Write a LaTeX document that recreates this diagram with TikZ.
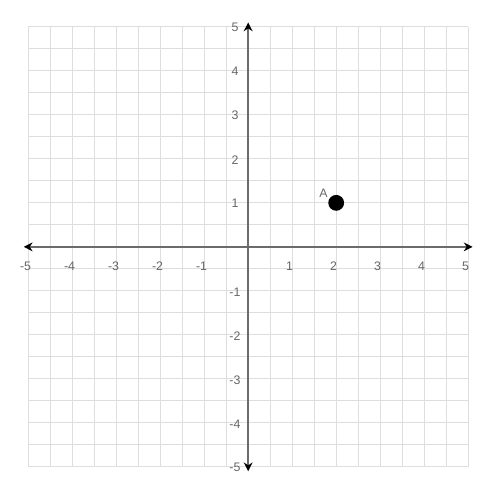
\documentclass[tikz,border=0pt]{standalone}
\usepackage{fontspec}
\setmainfont{Liberation Sans}
\usetikzlibrary{arrows.meta,positioning}

\begin{document}
\begin{tikzpicture}[
    x=1cm, y=1cm,
    font=\footnotesize,
    gridline/.style={
        draw=black!13,
        line width=0.6pt
    },
    axisline/.style={
        draw=black!58,
        line width=1.1pt,
        {Stealth[length=2mm,width=2mm,black]}-{Stealth[length=2mm,width=2mm,black]}
    },
    ticklabel/.style={
        text=black!60,
        inner sep=1pt
    },
    dot/.style={
        circle,
        fill=black,
        minimum size=3.6mm,
        inner sep=0pt
    }
]

% frame of the picture
\useasboundingbox (-5.64,-5.48) rectangle (5.39,5.61);

% grid
\draw[gridline] (-5,-5) grid[step=0.5] (5,5);

% axes
\coordinate (xl) at (-5.1,0);
\coordinate (xr) at (5.1,0);
\coordinate (yb) at (0,-5.1);
\coordinate (yt) at (0,5.1);
\draw[axisline] (xl) -- (xr);
\draw[axisline] (yb) -- (yt);

% tick labels
\foreach \k in {-5,-4,-3,-2,-1,1,2,3,4,5}
{
    \node[ticklabel] (xt\k) at (\k-0.06,-0.44) {\k};
    \node[ticklabel] (yt\k) at (-0.3,\k-0.02) {\k};
}

% point
\node[dot] (ptA) at (2,1) {};
\node[ticklabel, above left=-0.5mm and 0.2mm of ptA] (lblA) {A};

\end{tikzpicture}
\end{document}
